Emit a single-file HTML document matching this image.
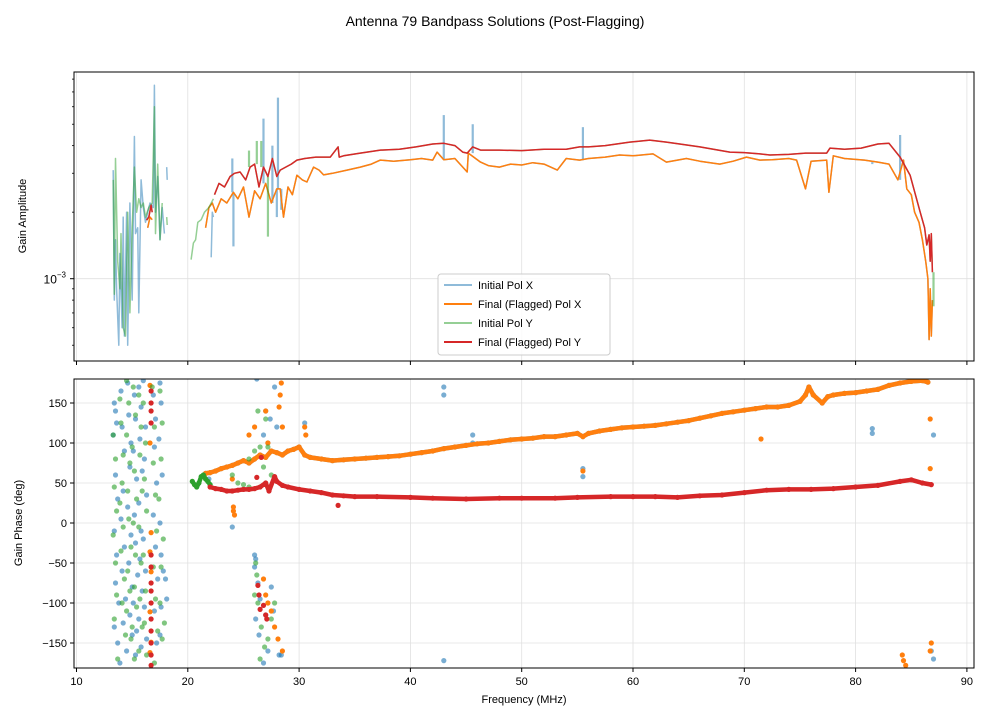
<!DOCTYPE html>
<html><head><meta charset="utf-8">
<style>
html,body{margin:0;padding:0;background:#fff;}
svg{display:block;font-family:"Liberation Sans","DejaVu Sans",sans-serif;}
</style></head>
<body>
<svg id="chart" width="990" height="720" viewBox="0 0 990 720" xmlns="http://www.w3.org/2000/svg">
<defs>
<clipPath id="clipTop"><rect x="74" y="72" width="900" height="289"/></clipPath>
<clipPath id="clipBot"><rect x="74" y="379" width="900" height="289"/></clipPath>
</defs>
<rect width="990" height="720" fill="#fff"/>
<text x="495" y="26" text-anchor="middle" font-size="14">Antenna 79 Bandpass Solutions (Post-Flagging)</text>
<g id="gridTop"></g>
<g id="gridBot"></g>
<g id="plotTop" clip-path="url(#clipTop)"></g>
<g id="plotBot" clip-path="url(#clipBot)"></g>
<rect x="74" y="72" width="900" height="289" fill="none" stroke="#000" stroke-width="1"/>
<rect x="74" y="379" width="900" height="289" fill="none" stroke="#000" stroke-width="1"/>
<g id="axesTicks" font-size="11"></g>
<text transform="translate(26,216) rotate(-90)" text-anchor="middle" font-size="11">Gain Amplitude</text>
<text transform="translate(22,523) rotate(-90)" text-anchor="middle" font-size="11">Gain Phase (deg)</text>
<text x="524" y="703" text-anchor="middle" font-size="11">Frequency (MHz)</text>
<g>
<rect x="438" y="274" width="172" height="81" rx="3" fill="#fff" fill-opacity="0.85" stroke="#ccc"/>
<g><line x1="444" y1="285" x2="472" y2="285" stroke="#1f77b4" stroke-opacity="0.5" stroke-width="2"/><text x="478" y="289" font-size="11">Initial Pol X</text></g>
<g><line x1="444" y1="304" x2="472" y2="304" stroke="#ff7f0e" stroke-width="2"/><text x="478" y="308" font-size="11">Final (Flagged) Pol X</text></g>
<g><line x1="444" y1="323" x2="472" y2="323" stroke="#2ca02c" stroke-opacity="0.5" stroke-width="2"/><text x="478" y="327" font-size="11">Initial Pol Y</text></g>
<g><line x1="444" y1="342" x2="472" y2="342" stroke="#d62728" stroke-width="2"/><text x="478" y="346" font-size="11">Final (Flagged) Pol Y</text></g>
</g>
</svg>
<script>
// ---- data (amplitude in units of 1e-3) ----
const xTicks = [10,20,30,40,50,60,70,80,90];
const phaseTicks = [-150,-100,-50,0,50,100,150];

const finalXFreq = [16.4,16.6,16.8,null,21.6,21.9,22.2,22.5,23,23.5,24.1,24.5,25,25.5,26,26.5,27,27.5,28,28.3,28.6,29,29.4,29.8,30.3,30.7,31.3,31.8,32.2,33,34.3,35.5,36.5,37.3,38.5,40,41,42,42.4,43,44,45.1,45.2,46.3,47,48,49,50,51,52,53.2,54,55.2,56,57.5,58.8,60,61.8,63,64.8,66,67.8,69,70.2,71.4,72.5,74,74.7,75.5,76,77.4,77.6,78,79,80.8,82,83,83.8,84.3,84.6,85,85.3,85.7,86,86.3,86.5,86.6,86.7,86.8,86.9];
const finalXAmp = [1.7,1.9,1.85,null,1.7,2.1,2.2,2.0,2.3,2.2,2.46,2.3,2.6,1.9,2.5,2.3,2.7,2.2,2.55,2.55,1.9,2.6,2.4,2.94,2.8,2.74,3.2,3.1,2.95,3.0,3.1,3.2,3.3,3.44,3.4,3.45,3.5,3.44,3.74,3.45,3.5,3.04,3.7,3.37,3.25,3.2,3.3,3.27,3.35,3.3,3.1,3.5,3.44,3.5,3.55,3.63,3.6,3.67,3.37,3.5,3.4,3.3,3.4,3.55,3.44,3.45,3.5,3.44,2.55,3.4,3.44,2.46,3.6,3.5,3.44,3.37,3.3,2.8,3.44,2.55,2.4,2.0,1.8,1.5,1.2,1.0,0.53,0.9,0.55,0.8];

const finalYFreq = [16.3,16.5,16.7,16.8,null,22.4,22.8,23.3,23.8,24.2,24.7,25.2,25.6,26.0,26.4,26.8,27.2,27.6,28.0,28.3,28.8,29.3,29.8,30.5,31.5,32.8,33.5,33.6,34,35.5,37.3,39,40.5,42,43,44,44.7,45.1,45.6,46.3,48,50,52,54,55.2,56,57.5,59.7,61.5,63,64.2,66,68.7,70,71.4,72.3,74,75.5,77.4,77.7,79,80.5,82,83,84,84.9,85.8,86.2,86.4,86.6,86.7,86.8,86.9];
const finalYAmp = [1.84,1.9,2.15,2.0,null,2.4,2.7,2.6,2.9,3.0,3.04,2.8,3.2,3.3,2.6,3.2,2.9,3.5,2.9,3.1,3.2,3.3,3.44,3.5,3.55,3.55,3.95,3.55,3.6,3.7,3.82,3.85,3.95,4.07,4.1,4.0,3.74,3.7,3.95,3.82,3.82,3.8,3.85,3.85,3.95,3.95,4.0,4.15,4.24,4.15,4.07,3.95,3.74,3.72,3.67,3.63,3.65,3.7,3.7,3.9,3.85,3.9,4.07,4.1,3.55,2.94,2.0,1.7,1.42,1.58,1.2,1.6,1.07];

const initXLowFreq = [13.3,13.4,13.5,13.6,13.8,13.9,14.1,14.2,14.3,14.5,14.6,14.8,15.0,15.2,15.3,15.5,15.6,15.8,16.0,16.2,16.4,16.6,16.9,17.0,17.1,17.3,17.5,17.7,17.9,null,18.1,18.15,null,22.1,22.2,22.3];
const initXLowAmp = [3.1,0.8,1.5,0.9,0.5,1.3,0.6,1.9,0.55,2.0,0.5,2.2,0.8,4.4,1.6,1.7,0.7,2.8,2.1,1.8,2.0,2.2,2.1,7.5,2.0,2.9,1.5,2.1,1.6,null,3.2,2.8,null,1.25,2.0,1.9];
const initXSpikeFreq = [24.0,24.1,26.8,27.6,28.1,28.4,28.0,43.0,45.6,55.5,84.0,81.5];
const initXSpikeAmp = [3.5,1.4,5.3,4.0,6.6,2.05,1.9,5.5,5.0,4.85,4.47,3.3];

const initYLowFreq = [13.3,13.4,13.5,13.7,13.9,14.0,14.2,14.4,14.6,14.8,15.0,15.2,15.4,15.6,15.8,16.0,16.2,16.5,16.8,17.0,17.1,17.3,17.5,17.7,null,18.1,18.15,null,20.3,20.5,20.7,20.9,21.2,21.5,21.9,22.3];
const initYLowAmp = [2.8,0.85,3.5,1.2,0.9,1.6,0.6,0.55,2.0,0.7,1.7,3.2,2.0,2.3,2.1,2.2,1.9,2.1,2.2,6.0,1.6,3.3,1.5,2.2,null,1.9,1.75,null,1.22,1.45,1.5,1.8,1.85,2.0,2.1,2.3];
const initYSpikeFreq = [25.5,26.2,26.6,27.2,87.0];
const initYSpikeAmp = [3.8,4.2,4.2,1.55,0.75];

// ---- phase data (deg) ----
const finalXPhFreq = [21.6,22,22.5,23,23.5,24,24.5,25,25.5,26,26.5,27,27.5,28,28.5,29,29.5,30,30.5,31,32,33,34,35,36,37,38,39,40,41,42,43,44,45,46,47,48,49,50,51,52,53,54,55,55.5,56,57,58,59,60,61,62,63,64,65,66,67,68,69,70,71,72,73,74,75,75.5,75.8,76.2,77,77.5,78,79,80,81,82,83,84,85,86,86.5];
const finalXPh = [62,63,65,68,70,72,75,78,75,80,85,82,90,88,85,90,92,95,85,82,80,78,79,80,81,82,83,84,86,88,90,93,95,97,99,100,102,104,105,106,108,108,110,112,108,112,115,117,119,120,121,122,124,126,128,131,134,137,139,141,143,145,145,147,152,160,170,160,150,158,160,162,163,165,167,172,175,177,178,176];
const finalXScatF = [24.1,24.1,24.2,24.0,25.5,26.0,27.0,27.2,28.2,28.3,28.4,28.5,30.5,30.6,16.6,16.6,16.7,16.6,16.7,16.6,16.7,16.6,26.8,27.0,27.2,27.5,27.8,28.1,28.5,71.5,84.2,84.3,84.5,86.7,86.7,86.8,86.7,55.5];
const finalXScatP = [20,15,10,55,110,120,140,100,145,160,175,120,120,110,172,100,-12,-36,-61,-111,-149,-162,-70,-90,-100,-110,-130,-145,-160,105,-165,-172,-178,68,130,-150,-160,65];

const finalYPhFreq = [22,22.5,23,23.5,24,24.5,25,25.5,26,26.5,27,27.3,27.8,28,28.5,29,30,31,32,33,34,35,37,40,42,45,48,50,53,55,58,60,62,64,66,68,70,72,74,76,78,80,82,84,85,86,86.8];
const finalYPh = [45,43,42,40,40,41,42,42,43,45,50,40,58,52,47,45,42,40,38,35,34,33,33,32,31,30,31,31,31,32,33,33,33,32,34,35,38,41,42,42,43,45,47,52,54,50,48];
const finalYScatF = [16.7,16.7,16.7,16.7,16.7,16.7,16.7,16.7,16.7,16.7,16.7,16.7,16.7,16.7,26.6,26.2,26.3,26.4,26.8,26.5,27.0,27.1,33.5];
const finalYScatP = [165,150,140,125,-40,-55,-75,-85,-100,-120,-135,-150,-165,-178,82,57,-78,-90,-103,-108,-115,-120,22];

const initXScatF = [13.4,13.5,13.6,13.3,13.5,13.7,13.4,13.6,13.5,13.8,13.4,13.7,13.9,14.0,14.1,14.3,14.2,14.0,14.3,14.1,14.4,14.2,14.5,14.6,14.7,14.9,14.8,14.6,14.9,14.7,15.0,14.8,15.0,15.2,15.3,15.1,15.4,15.2,15.3,15.5,15.1,15.4,15.3,15.6,15.8,15.7,15.9,15.6,15.8,15.7,15.9,15.6,15.8,16.0,16.2,16.1,16.3,16.0,16.2,16.1,16.3,16.9,17.1,17.0,17.2,16.9,17.1,17.3,17.0,17.2,17.5,17.6,17.4,17.7,17.5,17.6,17.8,17.6,17.5,18.0,18.1,26.0,26.1,26.0,26.3,26.5,26.1,26.4,26.8,27.2,27.0,27.5,27.7,28.2,28.4,24.0,27.8,26.2,27.0,27.4,26.8,27.2,28.0,30.5,21.9,43.0,43.0,43.0,45.6,45.6,55.5,55.5,81.5,81.5,87.0,86.8,87.0];
const initXScatP = [150,140,125,110,60,30,-10,-40,-75,-100,-130,-150,-175,165,120,90,40,5,-30,-60,-95,-125,-160,175,135,100,70,20,-15,-50,-80,-115,-140,160,130,90,55,10,-25,-65,-100,-135,-165,170,145,105,65,25,-10,-45,-85,-120,-155,178,120,80,35,-20,-60,-105,-145,160,130,95,50,10,-30,-70,-110,-150,175,150,105,60,0,-40,-60,-105,-140,-70,-95,-40,-45,-55,-75,-95,-120,-140,-175,-160,-115,-80,-110,-165,-165,-5,170,180,140,130,110,100,120,125,55,170,160,-172,110,100,68,58,112,118,110,-160,-170];

const initYPhFreq = [20.4,20.6,20.8,21,21.2,21.4,21.6,21.8,22];
const initYPh = [52,48,45,50,58,60,55,52,48];
const initYScatF = [13.3,13.5,13.4,13.6,13.3,13.5,13.6,13.4,13.7,13.9,14.0,14.2,14.1,13.9,14.2,14.0,14.3,14.1,14.4,14.5,14.7,14.5,14.8,14.6,14.7,14.9,14.6,14.8,14.5,14.9,15.1,15.3,15.0,15.2,15.4,15.1,15.3,15.2,15.4,15.0,15.2,15.6,15.8,15.7,15.9,15.6,15.8,15.7,15.9,15.6,16.0,16.2,16.1,16.3,16.0,16.2,16.1,16.3,16.8,17.0,16.9,17.1,17.2,16.9,17.1,17.3,17.0,17.5,17.7,17.6,17.4,17.8,17.6,17.5,17.7,17.9,25.5,26.0,26.5,26.8,27.2,26.3,27.0,27.5,26.1,26.2,26.0,26.3,26.6,26.9,27.2,27.5,26.5,27.8,24.0,24.5,25.0,25.5];
const initYScatP = [110,80,45,15,-15,-50,-90,-120,-170,155,125,85,50,25,-5,-35,-70,-100,-140,178,150,110,75,40,5,-30,-60,-85,-110,-145,170,135,95,65,30,0,-40,-80,-105,-130,-170,160,120,85,40,-5,-50,-95,-130,-160,150,100,55,15,-40,-85,-125,-165,170,120,75,35,-10,-55,-95,-135,-175,165,125,80,30,-20,-55,-100,-145,-125,80,90,95,70,95,140,130,60,-50,-65,-90,-100,-130,-155,-145,-120,-170,-100,60,50,48,45];

// ---- scales ----
const NS = 'http://www.w3.org/2000/svg';
function xs(f){ return 76.5 + (f - 10) * 11.13; }
function ya(a){ return 278.7 - Math.log10(a) * 221; }
function yp(p){ return 523 - p * 0.8; }

function mk(tag, attrs, parent){
  const e = document.createElementNS(NS, tag);
  for (const k in attrs) e.setAttribute(k, attrs[k]);
  parent.appendChild(e);
  return e;
}
function pathFrom(fs, vs, yfn){
  let d = '', pen = false;
  for (let i = 0; i < fs.length; i++){
    if (fs[i] === null || vs[i] === null){ pen = false; continue; }
    d += (pen ? 'L' : 'M') + xs(fs[i]).toFixed(1) + ' ' + yfn(vs[i]).toFixed(1);
    pen = true;
  }
  return d;
}

const gTop = document.getElementById('plotTop');
const gBot = document.getElementById('plotBot');
const gGT = document.getElementById('gridTop');
const gGB = document.getElementById('gridBot');
const gAx = document.getElementById('axesTicks');

xTicks.forEach(t => {
  const x = xs(t);
  const l1 = mk('line', {x1:x, y1:72, x2:x, y2:361, stroke:'#e0e0e0', 'stroke-width':0.8}, gGT);
  
  
  const l2 = mk('line', {x1:x, y1:379, x2:x, y2:668, stroke:'#e0e0e0', 'stroke-width':0.8}, gGB);
  
  
  mk('line', {x1:x, y1:361, x2:x, y2:365, stroke:'#000'}, gAx);
  mk('line', {x1:x, y1:668, x2:x, y2:672, stroke:'#000'}, gAx);
  const tx = mk('text', {x:x, y:685, 'text-anchor':'middle'}, gAx);
  tx.textContent = t;
  
  
});
phaseTicks.forEach(t => {
  const y = yp(t);
  const l = mk('line', {x1:74, y1:y, x2:974, y2:y, stroke:'#e0e0e0', 'stroke-width':0.8}, gGB);
  
  
  mk('line', {x1:70, y1:y, x2:74, y2:y, stroke:'#000'}, gAx);
  const tx = mk('text', {x:67, y:y + 4, 'text-anchor':'end'}, gAx);
  tx.textContent = String(t).replace('-', '\u2212');
  
  
});
const gl = mk('line', {x1:74, y1:ya(1), x2:974, y2:ya(1), stroke:'#e0e0e0', 'stroke-width':0.8}, gGT);


mk('line', {x1:70, y1:ya(1), x2:74, y2:ya(1), stroke:'#000'}, gAx);
[0.5,0.6,0.7,0.8,0.9,2,3,4,5,6,7,8].forEach(m => {
  const y = ya(m);
  if (y > 72 && y < 361) mk('line', {x1:72, y1:y, x2:74, y2:y, stroke:'#000', 'stroke-width':0.8}, gAx);
});
const lt = mk('text', {x:66, y:ya(1) + 5, 'text-anchor':'end', 'font-size':'12'}, gAx);
lt.innerHTML = '10<tspan dy="-6" font-size="8">−3</tspan>';



const C = {b:'#1f77b4', o:'#ff7f0e', g:'#2ca02c', r:'#d62728'};
function ampLine(fs, vs, col, op, name){
  const p = mk('path', {d:pathFrom(fs, vs, ya), fill:'none', stroke:col, 'stroke-opacity':op, 'stroke-width':1.5, 'stroke-linejoin':'round'}, gTop);
  
  
}
function spikes(fs, vs, baseFs, baseVs, col, name){
  fs.forEach((f, i) => {
    let best = 0, bd = 1e9;
    baseFs.forEach((bf, j) => { if (bf !== null && Math.abs(bf - f) < bd){ bd = Math.abs(bf - f); best = j; } });
    const l = mk('line', {x1:xs(f), x2:xs(f), y1:ya(baseVs[best]), y2:ya(vs[i]), stroke:col, 'stroke-opacity':0.5, 'stroke-width':2.2}, gTop);
    
    
  });
}
ampLine(finalXFreq, finalXAmp, C.b, 0.5, 'initial-x-amplitude-line');
ampLine(initXLowFreq, initXLowAmp, C.b, 0.5, 'initial-x-low-band-line');
spikes(initXSpikeFreq, initXSpikeAmp, finalXFreq, finalXAmp, C.b, 'initial-x-spike');
ampLine(finalXFreq, finalXAmp, C.o, 1, 'final-x-amplitude-line');
ampLine(finalYFreq, finalYAmp, C.g, 0.5, 'initial-y-amplitude-line');
ampLine(initYLowFreq, initYLowAmp, C.g, 0.5, 'initial-y-low-band-line');
spikes(initYSpikeFreq, initYSpikeAmp, finalYFreq, finalYAmp, C.g, 'initial-y-spike');
ampLine(finalYFreq, finalYAmp, C.r, 1, 'final-y-amplitude-line');

function dots(fs, ps, col, op, name){
  const g = mk('g', {fill:col, 'fill-opacity':op}, gBot);
  
  
  fs.forEach((f, i) => { mk('circle', {cx:xs(f).toFixed(1), cy:yp(ps[i]).toFixed(1), r:2.6}, g); });
}
function band(fs, ps, col, op, name){
  const p = mk('path', {d:pathFrom(fs, ps, yp), fill:'none', stroke:col, 'stroke-opacity':op, 'stroke-width':4.5, 'stroke-linejoin':'round', 'stroke-linecap':'round'}, gBot);
  
  
  dots(fs, ps, col, op, name + '-points');
}
dots(initXScatF, initXScatP, C.b, 0.6, 'initial-x-phase-points');
band(finalXPhFreq, finalXPh, C.b, 0.6, 'initial-x-phase-band');
band(finalXPhFreq, finalXPh, C.o, 1, 'final-x-phase-band');
dots(finalXScatF, finalXScatP, C.o, 1, 'final-x-phase-outliers');
dots(initYScatF, initYScatP, C.g, 0.6, 'initial-y-phase-points');
band(initYPhFreq, initYPh, C.g, 1, 'initial-y-phase-band');
band(finalYPhFreq, finalYPh, C.r, 1, 'final-y-phase-band');
dots(finalYScatF, finalYScatP, C.r, 1, 'final-y-phase-outliers');
</script>
</body></html>
